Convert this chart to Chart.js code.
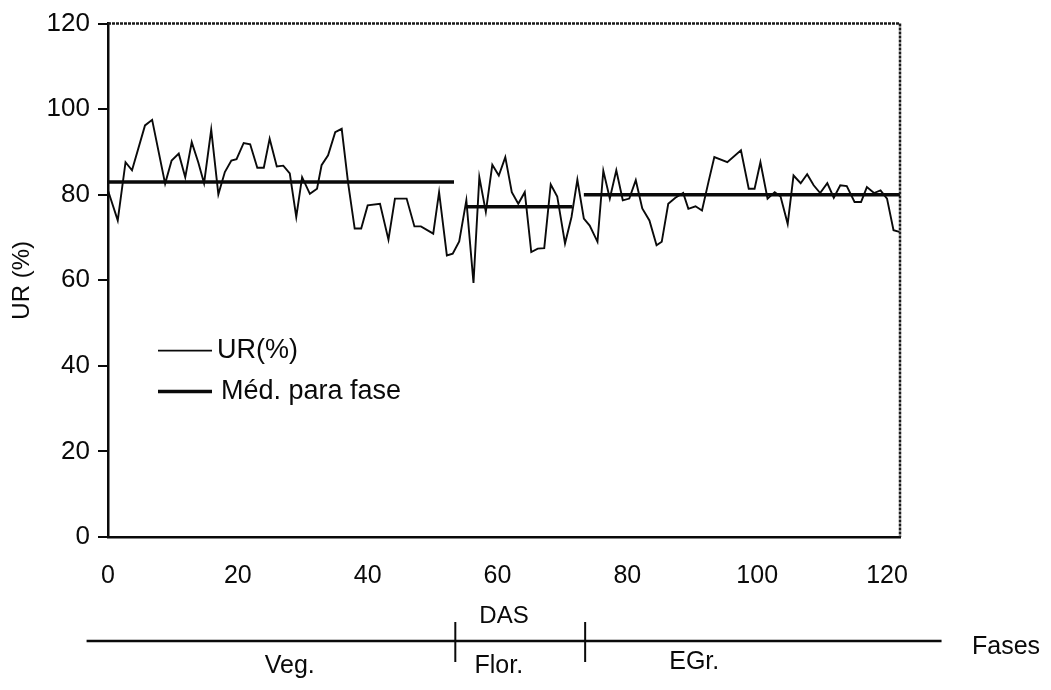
<!DOCTYPE html>
<html>
<head>
<meta charset="utf-8">
<script src="https://cdn.jsdelivr.net/npm/chart.js@4/dist/chart.umd.min.js"></script>
<style>
  html, body { margin: 0; padding: 0; background: #fff; }
  #wrap { width: 1051px; height: 690px; }
</style>
</head>
<body>
<div id="wrap"><canvas id="ur-chart" width="1051" height="690"></canvas></div>
<script>
// DAS (dias apos semeadura) and UR (%)
const das = [0, 1.5, 2.7, 3.7, 5.7, 6.8, 8.8, 9.8, 10.9, 11.9, 12.9, 13.9, 14.8, 15.9, 17, 18, 19, 19.8,
    20.9, 21.9, 23, 24, 24.9, 26, 27, 28, 29, 29.9, 31.1, 32.2, 32.9, 33.9, 35, 36, 37, 38, 39, 40,
    41.9, 43.2, 44.2, 46, 47.2, 48.2, 50.1, 51, 52.2, 53.1, 54.1, 55.2, 56.3, 57.2, 58.2, 59.2, 60.2,
    61.2, 62.2, 63.2, 64.2, 65.2, 66.2, 67.2, 68.2, 69.2, 70.4, 71.4, 72.3, 73.3, 74.2, 75.4, 76.3,
    77.3, 78.3, 79.3, 80.3, 81.3, 82.3, 83.4, 84.5, 85.3, 86.3, 87.4, 88.6, 89.4, 90.5, 91.5, 92.5,
    93.4, 95.4, 97.5, 98.7, 99.6, 100.5, 101.6, 102.7, 103.6, 104.7, 105.6, 106.7, 107.7, 108.7,
    109.7, 110.8, 111.8, 112.8, 113.8, 115, 116, 116.9, 118, 119, 120, 121, 121.9];
const ur = [81, 74, 87.6, 85.7, 96.2, 97.5, 82.6, 88, 89.6, 84.1, 92.3, 87.6, 82.7, 95.2, 80.1, 85.3, 88, 88.3,
    92.1, 91.8, 86.3, 86.3, 93.1, 86.6, 86.8, 85, 74.8, 84.1, 80.2, 81.4, 86.9, 89.2, 94.6, 95.4, 82.6, 72.1, 72.1, 77.5,
    77.9, 69.5, 79.1, 79.1, 72.6, 72.6, 70.9, 80.6, 65.8, 66.2, 69.1, 78.7, 59.4, 84.1, 76, 87, 84.5,
    88.8, 80.6, 77.9, 80.6, 66.6, 67.4, 67.5, 82.4, 79.6, 68.6, 74.8, 83.5, 74.4, 72.8, 69, 85.6,
    79.1, 85.7, 78.7, 79.1, 83.4, 76.8, 74, 68.2, 69, 77.9, 79.3, 80.4, 76.7, 77.3, 76.3, 83,
    88.8, 87.6, 90.4, 81.4, 81.4, 87.6, 79.1, 80.6, 79.6, 73.2, 84.5, 82.7, 84.8, 82.2,
    80.4, 82.7, 79.3, 82.2, 82, 78.3, 78.3, 81.8, 80.4, 81, 79.1, 71.7, 71.3];

// mean per phase
const phaseNames = ['Veg.', 'Flor.', 'EGr.'];
const phaseStart = [0, 55.2, 73.3];
const phaseEnd = [53.3, 71.5, 122];
const phaseMean = [83, 77.2, 80];
const phaseBounds = [53.5, 73.5];

const xTicks = [0, 20, 40, 60, 80, 100, 120];
const yTicks = [0, 20, 40, 60, 80, 100, 120];

const urPoints = das.map((d, i) => ({ x: d, y: ur[i] }));
const meanPoints = [];
phaseStart.forEach((s, i) => {
    meanPoints.push({ x: s, y: phaseMean[i] });
    meanPoints.push({ x: phaseEnd[i], y: phaseMean[i] });
    meanPoints.push({ x: phaseEnd[i], y: null });
});

const FONT = "'Liberation Sans', Arial, sans-serif";
const INK = '#0a0a0a';

// dotted frame round the plot
const framePlugin = {
    id: 'frame',
    afterDatasetsDraw(chart) {
        const { ctx, chartArea: a } = chart;
        ctx.save();
        ctx.strokeStyle = '#1a1a1a';
        ctx.lineWidth = 2.5;
        ctx.setLineDash([3, 1]);
        ctx.beginPath();
        ctx.moveTo(a.left, a.top);
        ctx.lineTo(a.right, a.top);
        ctx.lineTo(a.right, a.bottom);
        ctx.stroke();
        ctx.restore();
    }
};

// legend drawn inside the plot
const legendPlugin = {
    id: 'innerLegend',
    afterDraw(chart) {
        const { ctx, chartArea: a } = chart;
        const x0 = a.left + 50;
        const rows = [
            { text: 'UR(%)', width: 1.6, y: a.top + 327, gap: 5 },
            { text: 'Méd. para fase', width: 3.5, y: a.top + 368, gap: 9 }
        ];
        ctx.save();
        ctx.fillStyle = INK;
        ctx.strokeStyle = INK;
        ctx.font = '27px ' + FONT;
        ctx.textBaseline = 'middle';
        rows.forEach(r => {
            ctx.lineWidth = r.width;
            ctx.beginPath();
            ctx.moveTo(x0, r.y);
            ctx.lineTo(x0 + 54, r.y);
            ctx.stroke();
            ctx.fillText(r.text, x0 + 54 + r.gap, r.y);
        });
        ctx.restore();
    }
};

// phase bar under the x axis
const phasePlugin = {
    id: 'phases',
    afterDraw(chart) {
        const { ctx } = chart;
        const xs = chart.scales.x;
        const yLine = 641;
        const labelX = [28, 60.2, 90.3];
        ctx.save();
        ctx.strokeStyle = INK;
        ctx.lineWidth = 2.5;
        ctx.beginPath();
        ctx.moveTo(xs.getPixelForValue(-3.3), yLine);
        ctx.lineTo(xs.getPixelForValue(128.4), yLine);
        ctx.stroke();
        ctx.lineWidth = 2;
        phaseBounds.forEach(b => {
            const px = xs.getPixelForValue(b);
            ctx.beginPath();
            ctx.moveTo(px, yLine - 19);
            ctx.lineTo(px, yLine + 21);
            ctx.stroke();
        });
        ctx.fillStyle = INK;
        ctx.font = '25px ' + FONT;
        ctx.textAlign = 'center';
        ctx.textBaseline = 'middle';
        phaseNames.forEach((n, i) => {
            ctx.fillText(n, xs.getPixelForValue(labelX[i]), i === 2 ? 662 : 666);
        });
        ctx.textAlign = 'left';
        ctx.fillText('Fases', 972, 647);
        ctx.restore();
    }
};

const chart = new Chart(document.getElementById('ur-chart').getContext('2d'), {
    type: 'line',
    data: {
        datasets: [{
            label: 'UR(%)',
            data: urPoints,
            borderColor: INK,
            borderWidth: 1.9,
            pointRadius: 0,
            tension: 0
        }, {
            label: 'Méd. para fase',
            data: meanPoints,
            borderColor: INK,
            borderWidth: 3.5,
            pointRadius: 0,
            spanGaps: false
        }]
    },
    options: {
        responsive: false,
        animation: false,
        layout: { padding: { top: 23, right: 151, left: 0, bottom: 0 } },
        plugins: {
            legend: { display: false },
            tooltip: { enabled: false }
        },
        scales: {
            x: {
                type: 'linear',
                min: 0,
                max: 122,
                afterFit: s => { s.height = 153; },
                afterBuildTicks: s => { s.ticks = xTicks.map(v => ({ value: v })); },
                ticks: {
                    padding: 24,
                    color: INK,
                    font: { family: FONT, size: 25 },
                    maxRotation: 0
                },
                grid: { drawOnChartArea: false, drawTicks: false },
                border: { display: true, color: INK, width: 2.5 },
                title: {
                    display: true,
                    text: 'DAS',
                    color: INK,
                    font: { family: FONT, size: 24 },
                    padding: { top: 0, bottom: 59 }
                }
            },
            y: {
                min: 0,
                max: 120,
                afterFit: s => { s.width = 108; },
                afterBuildTicks: s => { s.ticks = yTicks.map(v => ({ value: v })); },
                ticks: {
                    padding: 8,
                    color: INK,
                    font: { family: FONT, size: 26 }
                },
                grid: { drawOnChartArea: false, tickLength: 10, color: INK, lineWidth: 2 },
                border: { display: true, color: INK, width: 2.5 },
                title: {
                    display: true,
                    text: 'UR (%)',
                    color: INK,
                    font: { family: FONT, size: 24 },
                    padding: { top: 8, bottom: 0 }
                }
            }
        }
    },
    plugins: [framePlugin, legendPlugin, phasePlugin]
});
</script>
</body>
</html>
